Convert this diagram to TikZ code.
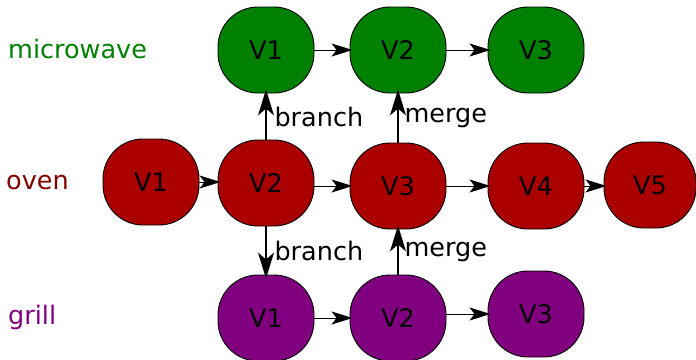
\documentclass[tikz,border=0pt]{standalone}
\usepackage{fontspec}
\setmainfont{DejaVu Sans}
\usetikzlibrary{arrows.meta}
\definecolor{mwgreen}{RGB}{0,128,0}
\definecolor{ovred}{RGB}{170,0,0}
\definecolor{ovtext}{RGB}{128,0,0}
\definecolor{grpurple}{RGB}{128,0,128}
\tikzset{
    base/.style={
        draw=black,
        line width=0.9pt,
        rectangle,
        rounded corners=40pt,
        minimum width=96pt,
        minimum height=86pt,
        inner sep=0pt,
        font=\fontsize{25.5}{30}\selectfont,
    },
    % Microwave
    mw/.style={
        base,
        fill=mwgreen,
    },
    % Oven
    ov/.style={
        base,
        fill=ovred,
    },
    % Grill
    gr/.style={
        base,
        fill=grpurple,
    },
    % Row names and arrow labels
    row/.style={
        anchor=west,
        inner sep=0pt,
        font=\fontsize{25.5}{30}\selectfont,
    },
    lbl/.style={
        anchor=west,
        inner sep=0pt,
        xshift=8pt,
        font=\fontsize{25.5}{30}\selectfont,
    },
    next/.style={
        line width=1pt,
        shorten >=-3pt,
        -{Stealth[length=21pt,width=13pt,inset=5pt]},
    },
    jump/.style={
        line width=1.1pt,
        shorten >=-4pt,
        -{Stealth[length=26pt,width=16pt,inset=7pt]},
    },
}

\begin{document}
\begin{tikzpicture}[x=1pt,y=-1pt]
    \useasboundingbox (0,0) rectangle (696,359);
    % Row names
    \node[row,text=mwgreen] (nmw) at (8,49) {microwave};
    \node[row,text=ovtext] (nov) at (6,183) {oven};
    \node[row,text=grpurple] (ngr) at (8,317) {grill};

    % Microwave
    \node[mw] (m1) at (266,50) {V1};
    \node[mw] (m2) at (398,50) {V2};
    \node[mw] (m3) at (536,50) {V3};

    % Oven
    \node[ov] (o1) at (151,182) {V1};
    \node[ov] (o2) at (266,183) {V2};
    \node[ov] (o3) at (398,186) {V3};
    \node[ov] (o4) at (536,186) {V4};
    \node[ov,minimum width=92pt] (o5) at (650,185) {V5};

    % Grill
    \node[gr] (g1) at (266,318) {V1};
    \node[gr] (g2) at (398,318) {V2};
    \node[gr] (g3) at (536,314) {V3};

    % Draw version sequences
    \draw[next] (m1.east) -- (m2.west);
    \draw[next] (m2.east) -- (m3.west);
    \draw[next] (o1.east) -- (o2.west |- o1);
    \draw[next] (o2.east |- o3) -- (o3.west);
    \draw[next] (o3.east) -- (o4.west);
    \draw[next] (o4.east) -- (o5.west |- o4);
    \draw[next] (g1.east) -- (g2.west);
    \draw[next] (g2.east |- g3) -- (g3.west);

    % Branches and merges
    \draw[jump] (o2) -- node[lbl] {branch} (m1);
    \draw[jump] (o3) -- node[lbl,xshift=-2pt] {merge} (m2);
    \draw[jump] (o2) -- node[lbl] {branch} (g1);
    \draw[jump] (g2) -- node[lbl,xshift=-2pt] {merge} (o3);
\end{tikzpicture}
\end{document}
